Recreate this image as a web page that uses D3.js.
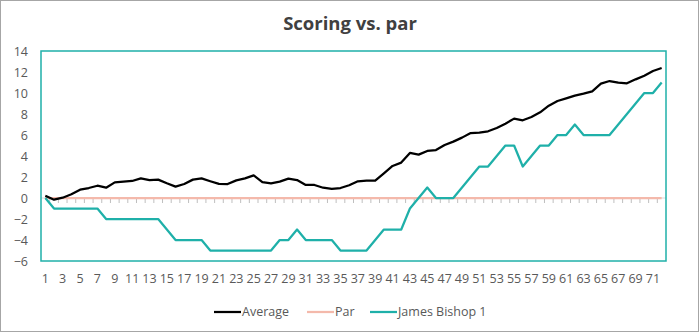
<!DOCTYPE html>
<html>
<head>
<meta charset="utf-8">
<script src="https://cdn.jsdelivr.net/npm/d3@7"></script>
<style>
  html, body { margin: 0; padding: 0; background: #fff; }
  svg { display: block; font-family: "Open Sans", "Noto Sans", sans-serif; }
</style>
</head>
<body>
<svg id="chart" width="699" height="333"></svg>
<script>
const holes = [1,2,3,4,5,6,7,8,9,10,11,12,13,14,15,16,17,18,19,20,21,22,23,24,25,26,27,28,29,30,31,32,33,34,35,36,
  37,38,39,40,41,42,43,44,45,46,47,48,49,50,51,52,53,54,55,56,57,58,59,60,61,62,63,64,65,66,67,68,69,70,71,72];
const average = [0.22,-0.16,0.03,0.35,0.79,0.95,1.17,0.98,1.49,1.56,1.62,1.87,1.71,1.75,1.4,1.08,1.33,1.75,1.87,1.6,
  1.35,1.33,1.68,1.87,2.16,1.52,1.4,1.56,1.84,1.71,1.24,1.24,0.98,0.86,0.95,1.21,1.59,1.65,1.65,2.35,
  3.05,3.37,4.29,4.13,4.48,4.57,5.05,5.37,5.75,6.19,6.22,6.35,6.67,7.08,7.56,7.4,7.72,8.16,8.79,9.24,
  9.49,9.75,9.94,10.16,10.89,11.14,10.98,10.92,11.3,11.65,12.1,12.38];
const par = [0,0,0,0,0,0,0,0,0,0,0,0,0,0,0,0,0,0,0,0,0,0,0,0,0,0,0,0,0,0,0,0,0,0,0,0,
  0,0,0,0,0,0,0,0,0,0,0,0,0,0,0,0,0,0,0,0,0,0,0,0,0,0,0,0,0,0,0,0,0,0,0,0];
const jamesBishop = [0,-1,-1,-1,-1,-1,-1,-2,-2,-2,-2,-2,-2,-2,-3,-4,-4,-4,-4,-5,-5,-5,-5,-5,-5,-5,-5,
  -4,-4,-3,-4,-4,-4,-4,-5,-5,-5,-5,-4,-3,-3,-3,-1,0,1,0,0,0,1,2,3,3,4,5,5,3,4,5,5,6,6,7,6,6,6,6,7,8,9,10,10,11];
const yTicks = [-6,-4,-2,0,2,4,6,8,10,12,14];
const xTickLabels = [1,3,5,7,9,11,13,15,17,19,21,23,25,27,29,31,33,35,37,39,41,43,45,47,49,51,53,55,57,59,61,63,65,67,69,71];
const seriesNames = ["Average", "Par", "James Bishop 1"];
const title = "Scoring vs. par";

const colors = { avg: "#000000", par: "#f4b9ab", james: "#1fb0a9" };
const textColor = "#595959";

const svg = d3.select("#chart");
const W = 699, H = 333;
const plot = { left: 41, right: 666, top: 51, bottom: 261 };

// outer chart border
svg.append("rect").attr("x", 0.5).attr("y", 0.5).attr("width", W - 1).attr("height", H - 2)
  .attr("fill", "#fff").attr("stroke", "#a6a6a6").attr("stroke-width", 1);

const x = d3.scaleBand().domain(holes).range([plot.left, plot.right]).padding(0);
const cx = d => x(d) + x.bandwidth() / 2;
const y = d3.scaleLinear().domain([-6, 14]).range([plot.bottom, plot.top]);

// title
svg.append("text").attr("x", 350).attr("y", 30).attr("text-anchor", "middle")
  .attr("font-size", 18.5).attr("font-weight", "bold").attr("fill", "#404040").text(title);

// y axis labels
const yAxis = d3.axisLeft(y).tickValues(yTicks).tickSize(0).tickPadding(0).tickFormat(d3.format("d"));
const gy = svg.append("g").attr("transform", `translate(${plot.left - 13},0)`).call(yAxis);
gy.select(".domain").remove();
gy.selectAll("text").attr("font-size", 12.5).attr("fill", textColor).attr("font-family", "Open Sans, Noto Sans, sans-serif");

// x axis labels at bottom
const xAxis = d3.axisBottom(x).tickValues(xTickLabels).tickSize(0).tickPadding(0);
const gx = svg.append("g").attr("transform", `translate(0,${plot.bottom + 13})`).call(xAxis);
gx.select(".domain").remove();
gx.selectAll("text").attr("font-size", 12.5).attr("fill", textColor).attr("font-family", "Open Sans, Noto Sans, sans-serif");

// horizontal axis line at zero with tick marks at category boundaries
const gz = svg.append("g").attr("transform", `translate(0,${y(0)})`);
const boundaries = holes.map(h => x(h)).slice(1);
gz.selectAll("line.tk").data(boundaries).join("line").attr("class", "tk")
  .attr("x1", d => d).attr("x2", d => d).attr("y1", 0).attr("y2", 5)
  .attr("stroke", "#bfbfbf").attr("stroke-width", 1);
gz.append("line").attr("x1", plot.left).attr("x2", plot.right).attr("y1", 0).attr("y2", 0)
  .attr("stroke", "#d9d9d9").attr("stroke-width", 1);

const line = d3.line().x((d, i) => cx(holes[i])).y(d => y(d));

svg.append("path").datum(par).attr("d", line).attr("fill", "none")
  .attr("stroke", colors.par).attr("stroke-width", 2.25);
svg.append("path").datum(jamesBishop).attr("d", line).attr("fill", "none")
  .attr("stroke", colors.james).attr("stroke-width", 2.25).attr("stroke-linejoin", "round");
svg.append("path").datum(average).attr("d", line).attr("fill", "none")
  .attr("stroke", colors.avg).attr("stroke-width", 2.25).attr("stroke-linejoin", "round");

// plot area border
svg.append("rect").attr("x", plot.left).attr("y", plot.top)
  .attr("width", plot.right - plot.left).attr("height", plot.bottom - plot.top)
  .attr("fill", "none").attr("stroke", colors.james).attr("stroke-width", 1.5);

// legend
const legendItems = [
  { name: seriesNames[0], color: colors.avg, x: 214 },
  { name: seriesNames[1], color: colors.par, x: 307 },
  { name: seriesNames[2], color: colors.james, x: 370 }
];
const lg = svg.append("g").attr("transform", "translate(0,312)");
legendItems.forEach(it => {
  lg.append("line").attr("x1", it.x).attr("x2", it.x + 27).attr("y1", 0).attr("y2", 0)
    .attr("stroke", it.color).attr("stroke-width", 2.25);
  lg.append("text").attr("x", it.x + 28).attr("y", 0).attr("dy", "0.35em")
    .attr("font-size", 12.5).attr("fill", textColor).text(it.name);
});
</script>
</body>
</html>
